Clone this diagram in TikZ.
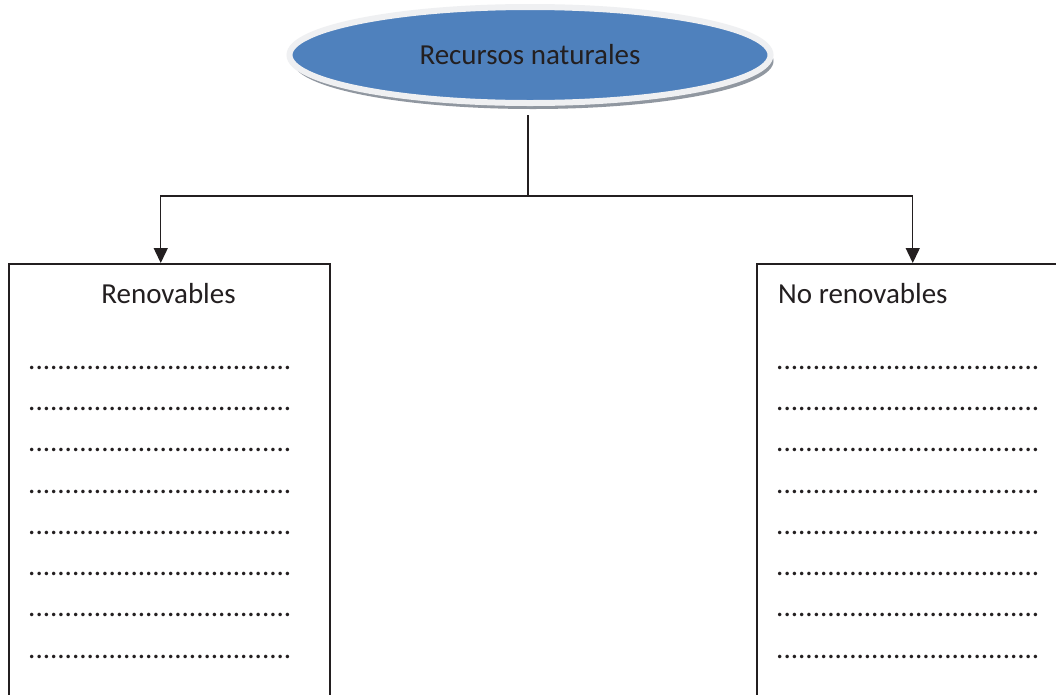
\documentclass[tikz,border=0pt]{standalone}
\usepackage{fontspec}
\setmainfont{Carlito}
\usetikzlibrary{shapes.geometric,arrows.meta,shadows}
\definecolor{txt}{HTML}{231F20}
\definecolor{ellblue}{HTML}{4F81BD}
\definecolor{rim}{HTML}{EFF0F2}
\definecolor{shad}{HTML}{858C96}
\tikzset{
  lbl/.style={font=\fontsize{29}{35}\selectfont, text=txt, inner sep=0pt},
  boxnode/.style={draw=txt, line width=1.5pt, minimum height=460pt, inner sep=0pt},
  conn/.style={draw=txt, line width=1.4pt},
  arr/.style={conn, -{Triangle[length=15pt,width=14pt]}},
}
\begin{document}
\begin{tikzpicture}[x=1pt,y=-1pt]
\useasboundingbox (0,0) rectangle (1056,694);
\clip (0,0) rectangle (1056,694);
\fill[white] (0,0) rectangle (1056,694);
% ellipse
\node[ellipse, fill=ellblue, draw=rim, line width=6pt, minimum width=481pt, minimum height=96pt,
      drop shadow={shadow xshift=3pt, shadow yshift=-6pt, fill=shad, opacity=0.9},
      lbl] (top) at (530,55) {Recursos naturales};
% boxes
\node[boxnode, minimum width=321pt, anchor=north west] (ren) at (8,263) {};
\node[boxnode, minimum width=330pt, anchor=north west] (nren) at (756,263) {};
\node[lbl, anchor=base] (rent) at (168.5,303) {Renovables};
\node[lbl, anchor=base west] (nrent) at (778,303) {No renovables};
% connectors
\coordinate (ts) at (528,115);
\coordinate (j) at (528,196);
\draw[conn] (ts) -- (j);
\draw[arr] (j) -| ([xshift=-8.5pt]ren.north);
\draw[arr] (j) -| ([xshift=-9pt]nren.north);
% dotted rows
\foreach \i/\y in {1/369,2/410,3/451,4/493,5/534,6/575,7/616,8/658}{
  \node[lbl, anchor=base west] (l\i) at (28,\y) {....................................};
  \node[lbl, anchor=base west] (r\i) at (776,\y) {....................................};
}
\end{tikzpicture}
\end{document}
